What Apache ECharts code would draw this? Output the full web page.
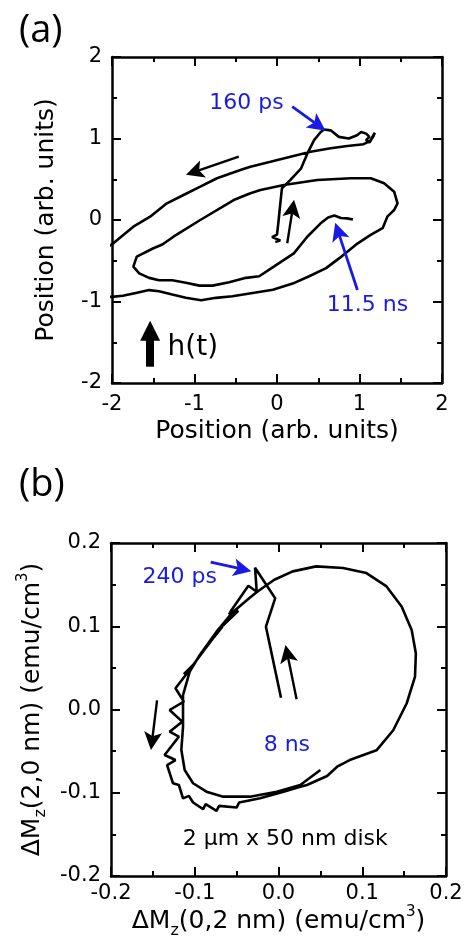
<!DOCTYPE html>
<html><head><meta charset="utf-8">
<script src="https://cdn.jsdelivr.net/npm/echarts@6/dist/echarts.min.js"></script>
<style>html,body{margin:0;padding:0;background:#fff}#c{width:471px;height:950px}</style>
</head><body><div id="c"></div>
<script>
// ---------- DATA ----------
// Panel (a): vortex-core trajectory (arb. units)
const trajA_x = [-0.02,0.04,-0.06,0.00,0.01,0.02,0.04,0.06,0.16,0.29,0.37,0.45,0.53,0.57,0.65,0.75,0.87,0.97,1.02,1.08,1.12,1.08,1.12,1.17,1.185,1.13,1.05,0.852,0.65,0.407,0.164,-0.079,-0.322,-0.444,-0.727,-0.93,-1.133,-1.335,-1.538,-1.741,-1.863,-1.984,-2.3,-2.3,-2.0,-1.87,-1.71,-1.55,-1.43,-1.27,-1.105,-0.92,-0.74,-0.54,-0.295,-0.05,0.19,0.39,0.595,0.76,0.96,1.14,1.28,1.34,1.42,1.461,1.42,1.298,1.137,0.894,0.489,0.083,-0.201,-0.322,-0.525,-0.93,-1.255,-1.39,-1.498,-1.70,-1.741,-1.67,-1.55,-1.43,-1.27,-1.105,-0.94,-0.78,-0.58,-0.375,-0.215,-0.039,0.204,0.367,0.529,0.62,0.695,0.775,0.85,0.92];
const trajA_y = [-0.27,-0.25,-0.21,-0.18,-0.16,0.00,0.20,0.39,0.49,0.63,0.82,0.98,1.08,1.11,1.10,1.02,1.00,1.04,1.08,1.06,1.02,0.98,0.95,1.03,1.071,0.97,0.93,0.908,0.88,0.838,0.777,0.715,0.654,0.613,0.512,0.409,0.307,0.205,0.04,-0.082,-0.184,-0.286,-0.5,-0.95,-0.943,-0.93,-0.895,-0.86,-0.875,-0.915,-0.955,-0.985,-0.955,-0.935,-0.895,-0.855,-0.78,-0.69,-0.59,-0.465,-0.30,-0.18,-0.10,0.045,0.123,0.205,0.347,0.45,0.512,0.512,0.491,0.429,0.368,0.328,0.245,0.0,-0.205,-0.30,-0.347,-0.45,-0.573,-0.655,-0.71,-0.74,-0.74,-0.77,-0.805,-0.805,-0.765,-0.71,-0.69,-0.573,-0.409,-0.205,-0.041,0.03,0.055,0.025,0.02,0.005];
// Panel (b): ΔMz trajectory (emu/cm^3)
const trajB_x = [0.003,-0.015,-0.004,-0.028,-0.026,-0.036,-0.056,-0.059,-0.048,-0.072,-0.067,-0.077,-0.102,-0.113,-0.105,-0.123,-0.113,-0.130,-0.115,-0.130,-0.119,-0.136,-0.123,-0.133,-0.126,-0.119,-0.114,-0.107,-0.102,-0.090,-0.087,-0.074,-0.071,-0.050,-0.047,-0.022,0.006,0.024,0.034,0.058,0.070,0.085,0.117,0.137,0.153,0.163,0.164,0.159,0.147,0.129,0.105,0.077,0.045,0.017,-0.005,-0.025,-0.034,-0.054,-0.074,-0.094,-0.106,-0.114,-0.114,-0.116,-0.112,-0.102,-0.086,-0.066,-0.034,-0.002,0.026,0.050];
const trajB_y = [0.014,0.0995,0.1336,0.1703,0.1415,0.1487,0.1195,0.1143,0.1185,0.0955,0.0995,0.087,0.0535,0.0425,0.049,0.0255,0.0094,-0.0006,-0.0146,-0.0267,-0.0327,-0.0547,-0.0607,-0.0667,-0.0886,-0.0907,-0.1067,-0.1037,-0.1117,-0.1197,-0.1137,-0.1217,-0.1158,-0.1178,-0.1117,-0.1067,-0.0987,-0.0935,-0.0907,-0.0799,-0.0687,-0.0607,-0.049,-0.0249,0.0072,0.0394,0.0675,0.0956,0.1237,0.1478,0.1639,0.1699,0.1719,0.1659,0.1558,0.1418,0.1345,0.1175,0.0935,0.0655,0.0454,0.0174,-0.0207,-0.0486,-0.0727,-0.0886,-0.0987,-0.1047,-0.1047,-0.0987,-0.0907,-0.0727];
// Tick values
const ticksA = [-2,-1,0,1,2];
const ticksB = [-0.2,-0.1,0.0,0.1,0.2];
// Axis titles
const titleA_x = 'Position (arb. units)';
const titleA_y = 'Position (arb. units)';
// Annotations (text, x, y)
const textsA = [['160 ps',-0.371,1.429],['11.5 ns',1.097,-1.043],['h(t)',-1.02,-1.564]];
const textsB = [['240 ps',-0.118,0.159],['8 ns',0.010,-0.043],['2 \u03bcm x 50 nm disk',0.008,-0.156]];
// Arrows [tail, head]
const blackArrowsA = [[[-0.464,0.777],[-1.00,0.59]],[[0.124,-0.286],[0.19,0.14]]];
const blueArrowsA = [[[0.185,1.39],[0.50,1.16]],[[0.975,-0.859],[0.74,-0.14]]];
const fieldArrowA = [[[-1.538,-1.80],[-1.538,-1.36]]];
const blackArrowsB = [[[0.0216,0.0124],[0.0105,0.067]],[[-0.145,0.011],[-0.151,-0.038]]];
const blueArrowsB = [[[-0.081,0.177],[-0.043,0.1685]]];

// ---------- CHART ----------
const FONT = 'DejaVu Sans';
const BLUE = '#1a1ae6';
const HEAD = 'path://M10,0 L20,26 L10,20 L0,26 Z';
const pairs = (xs, ys) => xs.map((x, i) => [x, ys[i]]);

function axis(o, ticks, fmt, showLabel, margin) {
  const step = +(ticks[1] - ticks[0]).toFixed(6);
  return Object.assign({
    type: 'value', min: ticks[0], max: ticks[ticks.length - 1], interval: step,
    axisLine: {show: true, onZero: false, lineStyle: {color: '#000', width: 2.5}},
    axisTick: {show: true, inside: true, length: 9, lineStyle: {color: '#000', width: 2}},
    minorTick: {show: true, splitNumber: 2, length: 5, lineStyle: {color: '#000', width: 2}},
    splitLine: {show: false}, minorSplitLine: {show: false},
    axisLabel: {show: showLabel, color: '#000', fontSize: 21, fontFamily: FONT, margin: margin || 9,
      formatter: fmt, showMinLabel: true, showMaxLabel: true, hideOverlap: false}
  }, o);
}
const fmtA = v => String(Math.round(v));
const fmtB = v => (Math.abs(v) < 1e-9 ? 0 : v).toFixed(1);

const richName = {
  t: {fontSize: 25, fontFamily: FONT, color: '#000'},
  sub: {fontSize: 16, fontFamily: FONT, color: '#000', verticalAlign: 'top', padding: [18, 0, 0, 0]},
  sup: {fontSize: 15, fontFamily: FONT, color: '#000', verticalAlign: 'top', padding: [0, 0, 15, 0]}
};

function textSeries(texts, xi, yi, colors, sizes) {
  return {
    type: 'scatter', xAxisIndex: xi, yAxisIndex: yi, symbolSize: 0, silent: true, z: 5,
    itemStyle: {opacity: 1},
    data: texts.map((t, i) => ({value: [t[1], t[2]], name: t[0],
      label: {color: colors[i], fontSize: sizes[i], opacity: 1}})),
    label: {show: true, position: 'inside', formatter: '{b}', fontFamily: FONT, opacity: 1}
  };
}
function arrowSeries(arrows, xi, yi, color, width, size, head) {
  return {
    type: 'lines', coordinateSystem: 'cartesian2d', xAxisIndex: xi, yAxisIndex: yi, z: 4,
    symbol: ['none', head || HEAD], symbolSize: size, silent: true,
    lineStyle: {color: color, width: width, opacity: 1, curveness: 0},
    data: arrows.map(c => ({coords: c}))
  };
}

const option = {
  animation: false,
  backgroundColor: '#fff',
  title: [
    {text: '(a)', left: 14, top: 7, textStyle: {fontFamily: 'Open Sans', fontWeight: 'normal', fontSize: 38, color: '#000'}},
    {text: '(b)', left: 14, top: 461, textStyle: {fontFamily: 'Open Sans', fontWeight: 'normal', fontSize: 38, color: '#000'}}
  ],
  grid: [
    {left: 112, top: 57, width: 330, height: 326},
    {left: 111, top: 543, width: 335, height: 333}
  ],
  xAxis: [
    axis({gridIndex: 0, position: 'bottom', name: titleA_x, nameLocation: 'middle', nameGap: 36,
      nameTextStyle: {fontSize: 25, fontFamily: FONT, color: '#000'}}, ticksA, fmtA, true, 11),
    axis({gridIndex: 0, position: 'top'}, ticksA, fmtA, false),
    axis({gridIndex: 1, position: 'bottom', name: '{t|\u0394M}{sub|z}{t|(0,2 nm) (emu/cm}{sup|3}{t|)}',
      nameLocation: 'middle', nameGap: 24, nameTextStyle: {rich: richName}}, ticksB, fmtB, true, 7),
    axis({gridIndex: 1, position: 'top'}, ticksB, fmtB, false)
  ],
  yAxis: [
    axis({gridIndex: 0, position: 'left', name: titleA_y, nameLocation: 'middle', nameGap: 53,
      nameTextStyle: {fontSize: 25, fontFamily: FONT, color: '#000'}}, ticksA, fmtA, true, 10),
    axis({gridIndex: 0, position: 'right'}, ticksA, fmtA, false),
    axis({gridIndex: 1, position: 'left', name: '{t|\u0394M}{sub|z}{t|(2,0 nm) (emu/cm}{sup|3}{t|)}',
      nameLocation: 'middle', nameGap: 60, nameTextStyle: {rich: richName}}, ticksB, fmtB, true, 10),
    axis({gridIndex: 1, position: 'right'}, ticksB, fmtB, false)
  ],
  series: [
    {type: 'line', xAxisIndex: 0, yAxisIndex: 0, data: pairs(trajA_x, trajA_y), showSymbol: false,
      symbol: 'none', smooth: false, clip: true, lineStyle: {color: '#000', width: 2.6}, silent: true},
    {type: 'line', xAxisIndex: 2, yAxisIndex: 2, data: pairs(trajB_x, trajB_y), showSymbol: false,
      symbol: 'none', smooth: false, clip: true, lineStyle: {color: '#000', width: 2.6}, silent: true},
    arrowSeries(blackArrowsA, 0, 0, '#000', 2.4, [14, 18]),
    arrowSeries(blueArrowsA, 0, 0, BLUE, 2.8, [14, 18]),
    arrowSeries(fieldArrowA, 0, 0, '#000', 8, [22, 20], 'triangle'),
    arrowSeries(blackArrowsB, 2, 2, '#000', 2.4, [14, 18]),
    arrowSeries(blueArrowsB, 2, 2, BLUE, 2.8, [14, 18]),
    textSeries(textsA, 0, 0, [BLUE, BLUE, '#000'], [22, 22, 28]),
    textSeries(textsB, 2, 2, [BLUE, BLUE, '#000'], [22, 22, 22])
  ]
};
const chart = echarts.init(document.getElementById('c'), null, {renderer: 'canvas'});
chart.setOption(option);
</script></body></html>
